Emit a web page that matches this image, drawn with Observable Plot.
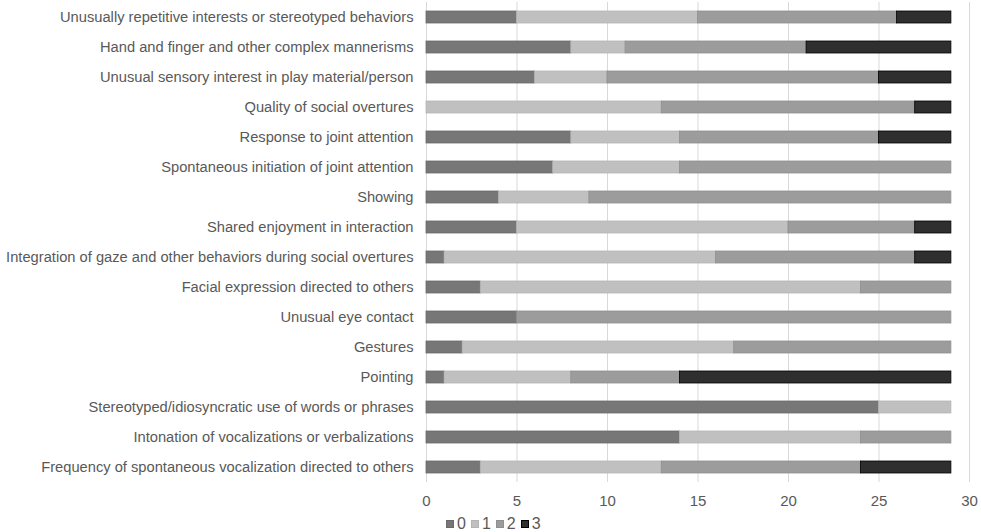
<!DOCTYPE html>
<html>
<head>
<meta charset="utf-8">
<script src="https://cdn.jsdelivr.net/npm/d3@7"></script>
<script src="https://cdn.jsdelivr.net/npm/@observablehq/plot@0.6"></script>
<style>
  html, body { margin: 0; padding: 0; background: #fff; }
  body { width: 981px; height: 532px; position: relative; overflow: hidden; font-family: "Liberation Sans", Arial, sans-serif; }
  #legend { position: absolute; left: 446px; top: 515px; display: flex; align-items: center; font-size: 16px; color: #595959; line-height: 18px; }
  #legend .item { display: flex; align-items: center; margin-right: 5px; }
  #legend .sw { width: 8px; height: 8px; margin-right: 3px; box-sizing: border-box; }
</style>
</head>
<body>
<div id="chart"></div>
<div id="legend"></div>
<script>
const categories = [
  "Unusually repetitive interests or stereotyped behaviors",
  "Hand and finger and other complex mannerisms",
  "Unusual sensory interest in play material/person",
  "Quality of social overtures",
  "Response to joint attention",
  "Spontaneous initiation of joint attention",
  "Showing",
  "Shared enjoyment in interaction",
  "Integration of gaze and other behaviors during social overtures",
  "Facial expression directed to others",
  "Unusual eye contact",
  "Gestures",
  "Pointing",
  "Stereotyped/idiosyncratic use of words or phrases",
  "Intonation of vocalizations or verbalizations",
  "Frequency of spontaneous vocalization directed to others"
];
const seriesNames = ["0", "1", "2", "3"];
const score0 = [5, 8, 6, 0, 8, 7, 4, 5, 1, 3, 5, 2, 1, 25, 14, 3];
const score1 = [10, 3, 4, 13, 6, 7, 5, 15, 15, 21, 0, 15, 7, 4, 10, 10];
const score2 = [11, 10, 15, 14, 11, 15, 20, 7, 11, 5, 24, 12, 6, 0, 5, 11];
const score3 = [3, 8, 4, 2, 4, 0, 0, 2, 2, 0, 0, 0, 15, 0, 0, 5];
const xTicks = [0, 5, 10, 15, 20, 25, 30];
const fillColors = ["#777777", "#c0c0c0", "#9c9c9c", "#2f2f2f"];
const strokeColors = ["#6a6a6a", "#b4b4b4", "#909090", "#000000"];

const allSeries = [score0, score1, score2, score3];
const rows = [];
allSeries.forEach((vals, si) => {
  categories.forEach((c, ci) => {
    rows.push({category: c, series: seriesNames[si], value: vals[ci]});
  });
});

const chart = Plot.plot({
  width: 981,
  height: 512,
  marginLeft: 426,
  marginRight: 12,
  marginTop: 2,
  marginBottom: 30,
  style: {fontFamily: "'Liberation Sans', Arial, sans-serif", fontSize: "14.7px", color: "#595959", background: "#fff"},
  x: {domain: [0, 30], ticks: xTicks, label: null},
  y: {domain: categories, paddingInner: 0.6, paddingOuter: 0.3, label: null},
  color: {domain: seriesNames, range: fillColors},
  marks: [
    Plot.gridX({ticks: xTicks, stroke: "#d9d9d9", strokeOpacity: 1, strokeWidth: 1}),
    Plot.barX(rows, Plot.stackX({
      x: "value", y: "category", fill: "series",
      stroke: d => strokeColors[seriesNames.indexOf(d.series)],
      strokeWidth: 0.8
    })),
    Plot.axisX({ticks: xTicks, tickSize: 0, tickPadding: 13, fontSize: 15, fill: "#595959", label: null}),
    Plot.axisY({tickSize: 0, tickPadding: 13, fontSize: 14.7, fill: "#595959", label: null})
  ]
});
document.getElementById("chart").appendChild(chart);

const legend = document.getElementById("legend");
seriesNames.forEach((s, i) => {
  const item = document.createElement("div");
  item.className = "item";
  const sw = document.createElement("div");
  sw.className = "sw";
  sw.style.background = fillColors[i];
  sw.style.border = "1px solid " + strokeColors[i];
  const lab = document.createElement("span");
  lab.textContent = s;
  item.appendChild(sw);
  item.appendChild(lab);
  legend.appendChild(item);
});
</script>
</body>
</html>
